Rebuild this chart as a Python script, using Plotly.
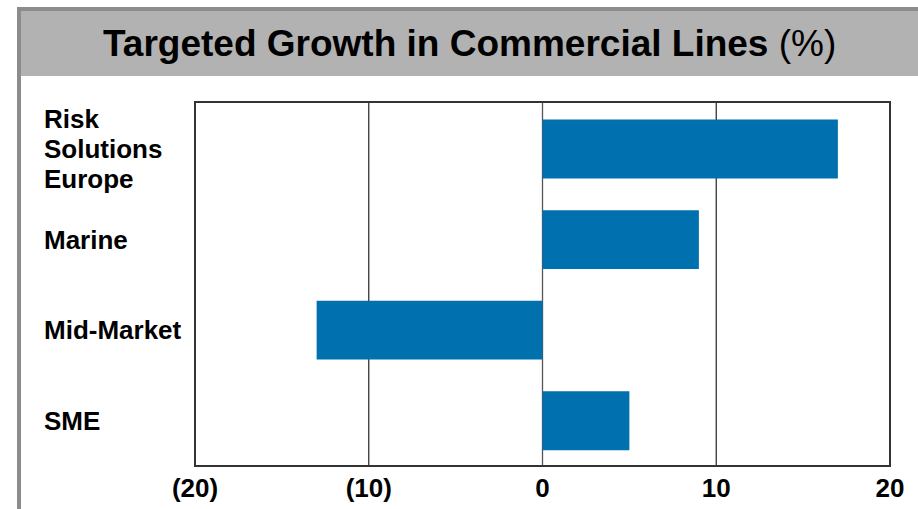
import plotly.graph_objects as go

# Data
categories = ["Risk<br>Solutions<br>Europe", "Marine", "Mid-Market", "SME"]
growth = [17, 9, -13, 5]
tick_vals = [-20, -10, 0, 10, 20]
tick_text = ["(20)", "(10)", "0", "10", "20"]
title_main = "Targeted Growth in Commercial Lines"
title_unit = "(%)"

W, H = 918, 509
L, R, T, B = 195, 890, 102, 466  # plot area in pixels


def px_x(x):
    return (x - L) / (R - L)


def px_y(y):
    return (B - y) / (B - T)


BAR = "#0071AE"
FONT = "Liberation Sans, Arial, sans-serif"

fig = go.Figure()
fig.add_trace(go.Bar(
    x=growth,
    y=categories,
    orientation="h",
    marker=dict(color=BAR, line=dict(width=0)),
    hoverinfo="x+y",
))

shapes = [
    # title band
    dict(type="rect", xref="paper", yref="paper",
         x0=px_x(19), x1=px_x(W + 20), y0=px_y(9), y1=px_y(76),
         fillcolor="#B2B2B2", line=dict(width=0), layer="below"),
    # top edge of title band
    dict(type="line", xref="paper", yref="paper",
         x0=px_x(17), x1=px_x(W + 20), y0=px_y(9), y1=px_y(9),
         line=dict(color="#8C8C8C", width=4)),
    # left rule of the slide
    dict(type="line", xref="paper", yref="paper",
         x0=px_x(19), x1=px_x(19), y0=px_y(7), y1=px_y(H + 10),
         line=dict(color="#8C8C8C", width=4)),
]
# vertical grid lines at interior ticks
for v in tick_vals[1:-1]:
    shapes.append(dict(type="line", xref="x", yref="paper",
                       x0=v, x1=v, y0=0, y1=1,
                       line=dict(color="#555555" if v == 0 else "#333333",
                                 width=1.3), layer="below"))
# plot frame
shapes.append(dict(type="rect", xref="paper", yref="paper",
                   x0=0, x1=1, y0=0, y1=1,
                   line=dict(color="#333333", width=2)))

annotations = [
    dict(xref="paper", yref="paper", x=px_x(469), y=px_y(44),
         xanchor="center", yanchor="middle", showarrow=False,
         text=f"<b>{title_main}</b> {title_unit}",
         font=dict(family=FONT, size=37, color="#000000")),
]
# category labels, one annotation per text line for tight line spacing
LINE_STEP = 30
for c in categories:
    lines = c.split("<br>")
    n = len(lines)
    for i, line in enumerate(lines):
        annotations.append(dict(
            xref="paper", yref="y", x=px_x(42), y=c,
            xanchor="left", yanchor="middle", align="left", showarrow=False,
            yshift=((n - 1) / 2 - i) * LINE_STEP,
            text=f"<b>{line}</b>",
            font=dict(family=FONT, size=26, color="#000000"),
        ))

fig.update_layout(
    width=W, height=H,
    margin=dict(l=L, r=W - R, t=T, b=H - B, pad=0, autoexpand=False),
    paper_bgcolor="white", plot_bgcolor="white",
    showlegend=False,
    bargap=0.35,
    shapes=shapes,
    annotations=annotations,
    font=dict(family=FONT),
    xaxis=dict(
        range=[-20, 20], tickvals=tick_vals, ticktext=tick_text,
        showgrid=False, zeroline=False, showline=False,
        ticks="", ticklabelstandoff=4, automargin=False,
        tickfont=dict(family=FONT, size=26, color="#000000", weight="bold"),
        fixedrange=True,
    ),
    yaxis=dict(
        categoryorder="array", categoryarray=categories[::-1],
        showticklabels=False, showgrid=False, zeroline=False,
        showline=False, ticks="", fixedrange=True, automargin=False,
    ),
)

fig.write_html("out.html")
